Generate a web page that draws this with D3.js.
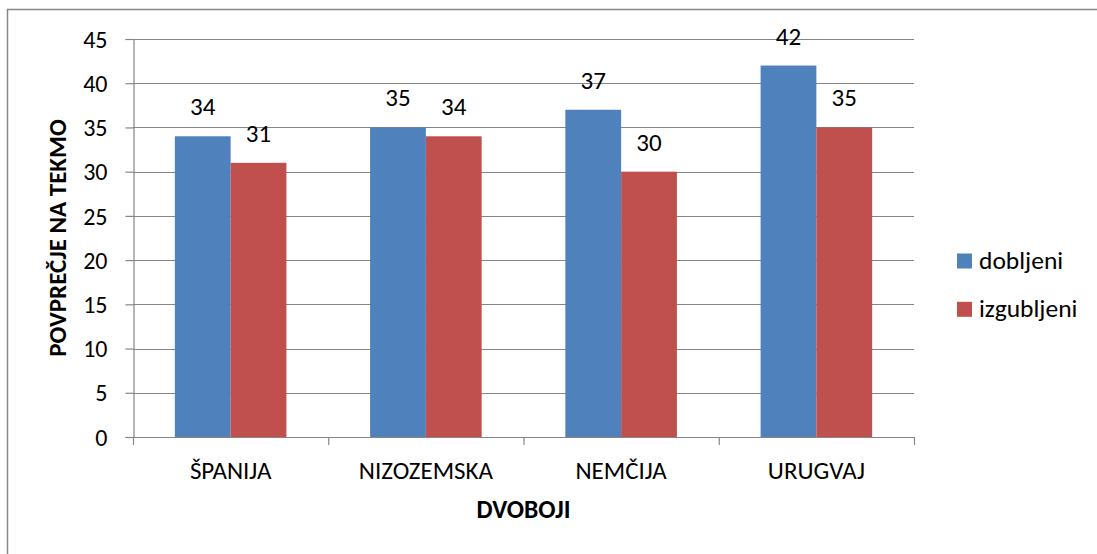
<!DOCTYPE html>
<html><head><meta charset="utf-8">
<script src="https://cdn.jsdelivr.net/npm/d3@7"></script>
<style>body{margin:0;background:#fff}svg{display:block}text{font-family:Carlito,"Liberation Sans",Arial,sans-serif;fill:#000}</style>
</head><body><svg id="c" width="1097" height="554"></svg>
<script>
const categories = ["ŠPANIJA","NIZOZEMSKA","NEMČIJA","URUGVAJ"];
const seriesNames = ["dobljeni","izgubljeni"];
const dobljeni = [34,35,37,42];
const izgubljeni = [31,34,30,35];
const yTicks = [0,5,10,15,20,25,30,35,40,45];
const colors = ["#4F81BD","#C0504D"];
const series = [dobljeni, izgubljeni];
const FONT = "Carlito,'Liberation Sans',Arial,sans-serif";

const svg = d3.select("#c");
svg.append("rect").attr("x",7.5).attr("y",9.5).attr("width",1200).attr("height",700)
  .attr("fill","#fff").attr("stroke","#878787").attr("stroke-width",1.5);

const L=133, R=914, T=39, B=437;
const x = d3.scaleBand().domain(categories).range([L,R]).paddingInner(0).paddingOuter(0);
const y = d3.scaleLinear().domain([0,45]).range([B,T]);
const groupW = x.bandwidth()/1.75;
const x1 = d3.scaleBand().domain([0,1]).range([0,groupW]);

// gridlines
svg.append("g").selectAll("line").data(yTicks.filter(d=>d>0)).join("line")
  .attr("x1",L).attr("x2",R).attr("y1",d=>Math.round(y(d))+0.5).attr("y2",d=>Math.round(y(d))+0.5)
  .attr("stroke","#868686").attr("stroke-width",1.2);

// bars
categories.forEach((c,i)=>{
  const gx = x(c) + (x.bandwidth()-groupW)/2;
  series.forEach((s,j)=>{
    svg.append("rect").attr("x",gx+x1(j)).attr("width",x1.bandwidth())
      .attr("y",y(s[i])).attr("height",B-y(s[i])).attr("fill",colors[j]);
    svg.append("text").attr("x",gx+x1(j)+x1.bandwidth()/2).attr("y",y(s[i])-21)
      .attr("text-anchor","middle").attr("font-size",25).text(s[i]);
  });
});

// y axis
const yAxis = d3.axisLeft(y).tickValues(yTicks).tickSize(8).tickPadding(18);
const gy = svg.append("g").attr("transform",`translate(${L+0.5},0)`).call(yAxis);
gy.select(".domain").attr("stroke","#868686").attr("stroke-width",1.2);
gy.selectAll(".tick line").attr("stroke","#868686").attr("stroke-width",1.2);
gy.selectAll(".tick text").attr("font-size",24).attr("font-family",FONT).attr("fill","#000").attr("dy","0.34em");

// x axis
svg.append("line").attr("x1",L).attr("x2",R).attr("y1",B+0.5).attr("y2",B+0.5).attr("stroke","#868686").attr("stroke-width",1.2);
const bounds = categories.map(c=>x(c)).concat([R]);
svg.append("g").selectAll("line").data(bounds).join("line")
  .attr("x1",d=>d+0.5).attr("x2",d=>d+0.5).attr("y1",B).attr("y2",B+8)
  .attr("stroke","#868686").attr("stroke-width",1.2);
svg.append("g").selectAll("text").data(categories).join("text")
  .attr("x",d=>x(d)+x.bandwidth()/2).attr("y",478.5).attr("text-anchor","middle")
  .attr("font-size",25).text(d=>d);

// axis titles
svg.append("text").attr("x",(L+R)/2).attr("y",518).attr("text-anchor","middle")
  .attr("font-size",25.5).attr("font-weight","bold").text("DVOBOJI");
svg.append("text").attr("transform",`translate(66,${(T+B)/2}) rotate(-90)`).attr("text-anchor","middle")
  .attr("font-size",25).attr("font-weight","bold").text("POVPREČJE NA TEKMO");

// legend
seriesNames.forEach((n,i)=>{
  const by = 268.5 + i*48.3;
  svg.append("rect").attr("x",957).attr("y",by-15).attr("width",15).attr("height",15).attr("fill",colors[i]);
  svg.append("text").attr("x",979).attr("y",by).attr("font-size",25.5).text(n);
});
</script></body></html>
